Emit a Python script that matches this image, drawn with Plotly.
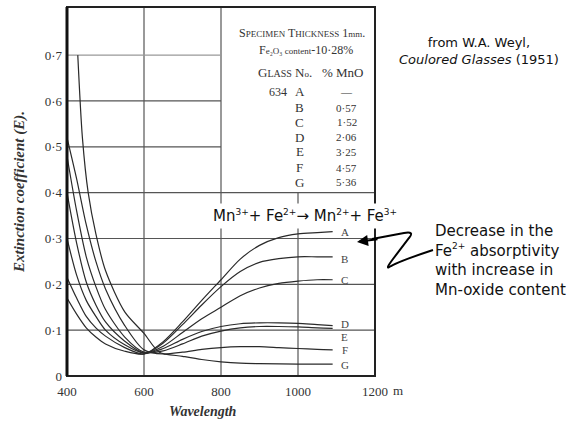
import plotly.graph_objects as go

# ---------------- data ----------------
wl = [400, 425, 450, 475, 500, 550, 600, 650, 700, 750, 800, 850, 900, 950, 1000, 1050, 1090]
curve_A = [0.17, 0.135, 0.105, 0.085, 0.07, 0.054, 0.048, 0.075, 0.118, 0.165, 0.21, 0.255, 0.285, 0.302, 0.31, 0.313, 0.315]
curve_B = [0.215, 0.17, 0.13, 0.105, 0.087, 0.062, 0.048, 0.072, 0.112, 0.155, 0.195, 0.228, 0.248, 0.256, 0.26, 0.26, 0.26]
curve_C = [0.30, 0.22, 0.165, 0.13, 0.10, 0.068, 0.05, 0.065, 0.095, 0.125, 0.15, 0.175, 0.192, 0.202, 0.207, 0.21, 0.21]
curve_D = [0.40, 0.29, 0.205, 0.155, 0.118, 0.076, 0.05, 0.06, 0.08, 0.097, 0.108, 0.114, 0.116, 0.116, 0.115, 0.112, 0.11]
curve_E = [0.48, 0.36, 0.26, 0.195, 0.145, 0.085, 0.052, 0.055, 0.07, 0.087, 0.098, 0.105, 0.108, 0.108, 0.107, 0.105, 0.104]
curve_F = [0.52, 0.43, 0.33, 0.25, 0.19, 0.11, 0.057, 0.048, 0.052, 0.058, 0.062, 0.064, 0.064, 0.062, 0.06, 0.058, 0.057]
wl_G = [428, 440, 455, 475, 500, 550, 600, 640, 700, 750, 800, 850, 900, 1000, 1090]
curve_G = [0.70, 0.52, 0.40, 0.31, 0.23, 0.14, 0.093, 0.052, 0.043, 0.036, 0.031, 0.028, 0.027, 0.026, 0.026]

curve_names = ["A", "B", "C", "D", "E", "F", "G"]
label_y = [0.315, 0.255, 0.21, 0.113, 0.086, 0.057, 0.025]

glass_letters = ["A", "B", "C", "D", "E", "F", "G"]
mno_values = ["—", "0·57", "1·52", "2·06", "3·25", "4·57", "5·36"]

x_ticks = [400, 600, 800, 1000, 1200]
y_ticks = [0, 0.1, 0.2, 0.3, 0.4, 0.5, 0.6, 0.7]
y_ticktext = ["0", "0·1", "0·2", "0·3", "0·4", "0·5", "0·6", "0·7"]

# ---------------- figure ----------------
ink = "#2a2a2a"
grid = "#555555"
serif = "Liberation Serif"
sans = "DejaVu Sans"

L, R, T, B = 67, 375, 7, 376
def px(x):
    return (x - L) / (R - L)
def py(y):
    return (B - y) / (B - T)

def sup(s):
    return f"<sup><span style='font-size:9px'>{s}</span></sup>"

fig = go.Figure()
series = [(wl, curve_A), (wl, curve_B), (wl, curve_C), (wl, curve_D),
          (wl, curve_E), (wl, curve_F), (wl_G, curve_G)]
for name, (xs, ys) in zip(curve_names, series):
    fig.add_trace(go.Scatter(x=xs, y=ys, mode="lines", name=name,
                             line=dict(color=ink, width=1.2, shape="spline", smoothing=0.8),
                             showlegend=False, hoverinfo="skip"))

YMAX = 0.805
shapes = []
for xv in [600, 800]:
    shapes.append(dict(type="line", xref="x", yref="y", x0=xv, x1=xv, y0=0, y1=YMAX,
                       line=dict(color=grid, width=1.2), layer="below"))
shapes.append(dict(type="line", xref="x", yref="y", x0=1000, x1=1000, y0=0, y1=0.4,
                   line=dict(color=grid, width=1.2), layer="below"))
for yv in [0.1, 0.2, 0.3, 0.4]:
    shapes.append(dict(type="line", xref="x", yref="y", x0=400, x1=1200, y0=yv, y1=yv,
                       line=dict(color=grid, width=1.2), layer="below"))
for yv in [0.5, 0.6]:
    shapes.append(dict(type="line", xref="x", yref="y", x0=400, x1=800, y0=yv, y1=yv,
                       line=dict(color=grid, width=1.2), layer="below"))
shapes.append(dict(type="line", xref="x", yref="y", x0=400, x1=800, y0=0.7, y1=0.7,
                   line=dict(color="#999999", width=1.2), layer="below"))
shapes.append(dict(type="rect", xref="paper", yref="paper", x0=0, x1=1, y0=0, y1=1,
                   line=dict(color="#222222", width=2)))
shapes.append(dict(type="line", xref="paper", yref="paper", x0=0, x1=0, y0=0, y1=1,
                   line=dict(color="#111111", width=3)))

def P(x, y):
    return f"{px(x):.4f},{py(y):.4f}"

path = ("M " + P(433, 250) + " Q " + P(400, 261) + " " + P(391, 266)
        + " Q " + P(384, 271) + " " + P(393, 259)
        + " L " + P(409, 238) + " Q " + P(415, 231) + " " + P(404, 233)
        + " L " + P(372, 239))
shapes.append(dict(type="path", xref="paper", yref="paper", path=path,
                   line=dict(color="black", width=2)))

annotations = []
for name, yv in zip(curve_names, label_y):
    annotations.append(dict(x=1122, y=yv, xref="x", yref="y", text=name, showarrow=False,
                            xanchor="center", font=dict(family=serif, size=11, color="#444")))

annotations.append(dict(x=1010, y=0.749, xref="x", yref="y",
                        text="S<span style='font-size:9px'>PECIMEN</span> T<span style='font-size:9px'>HICKNESS</span> 1<span style='font-size:9px'>mm</span>.",
                        showarrow=False, xanchor="center", font=dict(family=serif, size=12, color="#333")))
annotations.append(dict(x=1021, y=0.712, xref="x", yref="y",
                        text="F<span style='font-size:9px'>e₂O₃ content</span>-10·28%",
                        showarrow=False, xanchor="center", font=dict(family=serif, size=12, color="#333")))
annotations.append(dict(x=1034, y=0.663, xref="x", yref="y",
                        text="G<span style='font-size:10px'>LASS</span> N<span style='font-size:9px'>o</span>.   % MnO",
                        showarrow=False, xanchor="center", font=dict(family=serif, size=13, color="#333")))
annotations.append(dict(x=948, y=0.62, xref="x", yref="y", text="634",
                        showarrow=False, xanchor="center", font=dict(family=serif, size=12, color="#333")))
table_y = [0.62, 0.585, 0.554, 0.521, 0.489, 0.454, 0.423]
for letter, val, yv in zip(glass_letters, mno_values, table_y):
    annotations.append(dict(x=1005, y=yv, xref="x", yref="y", text=letter, showarrow=False,
                            xanchor="center", font=dict(family=serif, size=13, color="#333")))
    annotations.append(dict(x=1127, y=yv, xref="x", yref="y", text=val, showarrow=False,
                            xanchor="center", font=dict(family=serif, size=11, color="#333")))

annotations.append(dict(x=px(305), y=py(216), xref="paper", yref="paper",
                        text="Mn" + sup("3+") + "+ Fe" + sup("2+") + "→ Mn" + sup("2+") + "+ Fe" + sup("3+"),
                        showarrow=False, bgcolor="white", borderpad=3,
                        xanchor="center", yanchor="middle",
                        font=dict(family=sans, size=15, color="#111")))
annotations.append(dict(x=px(357), y=py(242), xref="paper", yref="paper",
                        ax=22, ay=-3, text="", showarrow=True, arrowhead=2, arrowsize=1.1,
                        arrowwidth=2, arrowcolor="black"))
annotations.append(dict(x=px(433), y=py(260), xref="paper", yref="paper",
                        text="Decrease in the<br>Fe" + sup("2+") + " absorptivity<br>with increase in<br>Mn-oxide content",
                        showarrow=False, align="left", xanchor="left", yanchor="middle",
                        font=dict(family=sans, size=15, color="#111")))
annotations.append(dict(x=px(479), y=py(51), xref="paper", yref="paper",
                        text="from W.A. Weyl,<br><i>Coulored Glasses</i> (1951)",
                        showarrow=False, align="center", xanchor="center", yanchor="middle",
                        font=dict(family=sans, size=13, color="#111")))
annotations.append(dict(x=px(398), y=py(390), xref="paper", yref="paper",
                        text="m", showarrow=False, xanchor="center", yanchor="middle",
                        font=dict(family=serif, size=13, color="#333")))
annotations.append(dict(x=px(203), y=py(411), xref="paper", yref="paper",
                        text="<i><b>Wavelength</b></i>", showarrow=False,
                        xanchor="center", yanchor="middle",
                        font=dict(family=serif, size=14, color="#333")))
annotations.append(dict(x=px(20), y=py(192), xref="paper", yref="paper",
                        text="<i><b>Extinction coefficient (E).</b></i>", showarrow=False, textangle=-90,
                        xanchor="center", yanchor="middle",
                        font=dict(family=serif, size=15, color="#333")))

fig.update_layout(
    width=587, height=424,
    margin=dict(l=L, r=587 - R, t=T, b=424 - B),
    paper_bgcolor="white", plot_bgcolor="white",
    shapes=shapes, annotations=annotations,
    xaxis=dict(range=[400, 1200], tickvals=x_ticks, ticktext=[str(v) for v in x_ticks],
               showgrid=False, zeroline=False, showline=False, ticks="", ticklabelstandoff=6,
               tickfont=dict(family=serif, size=13, color="#333")),
    yaxis=dict(range=[0, YMAX], tickvals=y_ticks, ticktext=y_ticktext,
               showgrid=False, zeroline=False, showline=False, ticks="", ticklabelstandoff=4,
               tickfont=dict(family=serif, size=13, color="#333")),
)

fig.write_html("out.html")
